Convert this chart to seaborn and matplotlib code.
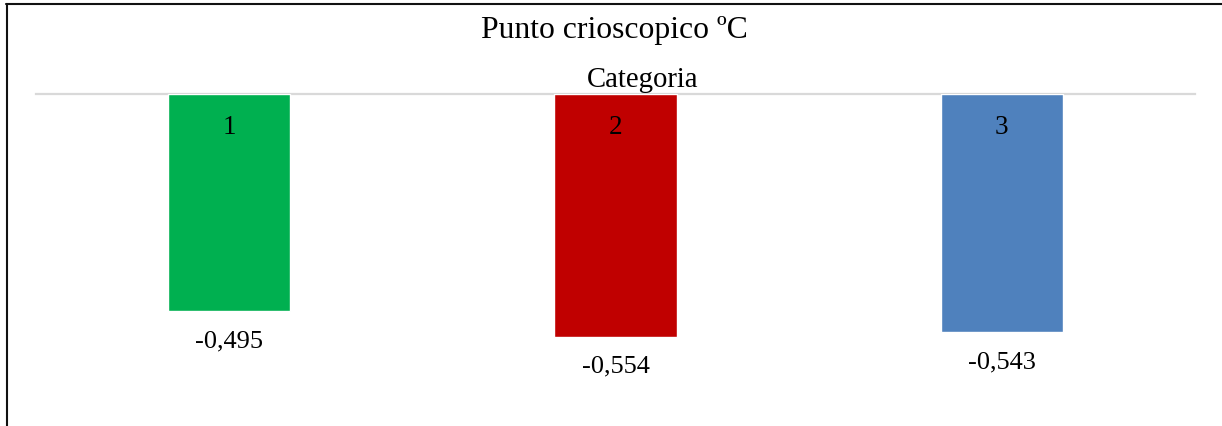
import matplotlib
matplotlib.use("Agg")
import matplotlib.pyplot as plt
from matplotlib.lines import Line2D
import seaborn as sns
import pandas as pd

categories = ["1", "2", "3"]
values = [-0.495, -0.554, -0.543]
colors = ["#00B050", "#C00000", "#4F81BD"]
title = "Punto crioscopico ºC"
axis_label = "Categoria"

sns.set_theme(style="white")
plt.rcParams["font.family"] = ["Liberation Serif", "DejaVu Serif"]

df = pd.DataFrame({"cat": categories, "val": values})

W, H = 1222, 427
fig = plt.figure(figsize=(W / 100, H / 100), dpi=100)
ax_top = 95
ax_bot = 420
ax = fig.add_axes([36 / W, 1 - ax_bot / H, (1195 - 36) / W, (ax_bot - ax_top) / H])

sns.barplot(data=df, x="cat", y="val", hue="cat", palette=colors, legend=False,
            width=0.316, ax=ax, saturation=1)

ax.set_xlim(-0.5, 2.5)
ax.set_ylim(-(ax_bot - ax_top) / 438.0, 0)
ax.set_axisbelow(False)

# category axis sits at value 0 (top of the plot area), labels hang below it
ax.spines["bottom"].set_position(("axes", 1.0))
ax.spines["bottom"].set_color("#D9D9D9")
ax.spines["bottom"].set_linewidth(1.6)
ax.spines["bottom"].set_zorder(0.5)
for s in ["left", "right", "top"]:
    ax.spines[s].set_visible(False)
ax.set_yticks([])
ax.set_ylabel("")

ax.tick_params(axis="x", bottom=False, top=False, labelbottom=True, labeltop=False,
               pad=8.7, labelsize=19.5, labelcolor="#000000")

ax.set_xlabel(axis_label, fontsize=20.7, color="#000000")
ax.xaxis.set_label_coords((643 - 36) / 1159, 1 + (95 - 86.7) / 325)
ax.xaxis.label.set_va("baseline")

for i, v in enumerate(values):
    ax.annotate(f"{v:.3f}".replace(".", ","), xy=(i, v), xytext=(0, -21),
                textcoords="offset points", ha="center", va="center",
                fontsize=19, color="#000000")

fig.text(614.5 / W, 1 - 38 / H, title, ha="center", va="baseline",
         fontsize=22.8, color="#000000")

fig.add_artist(Line2D([6.8 / W, 6.8 / W], [0, 1 - 5 / H], transform=fig.transFigure,
                      color="#111111", linewidth=1.5))
fig.add_artist(Line2D([6 / W, 1], [1 - 5 / H, 1 - 5 / H], transform=fig.transFigure,
                      color="#111111", linewidth=1.5))

fig.savefig("out.png", dpi=100)
